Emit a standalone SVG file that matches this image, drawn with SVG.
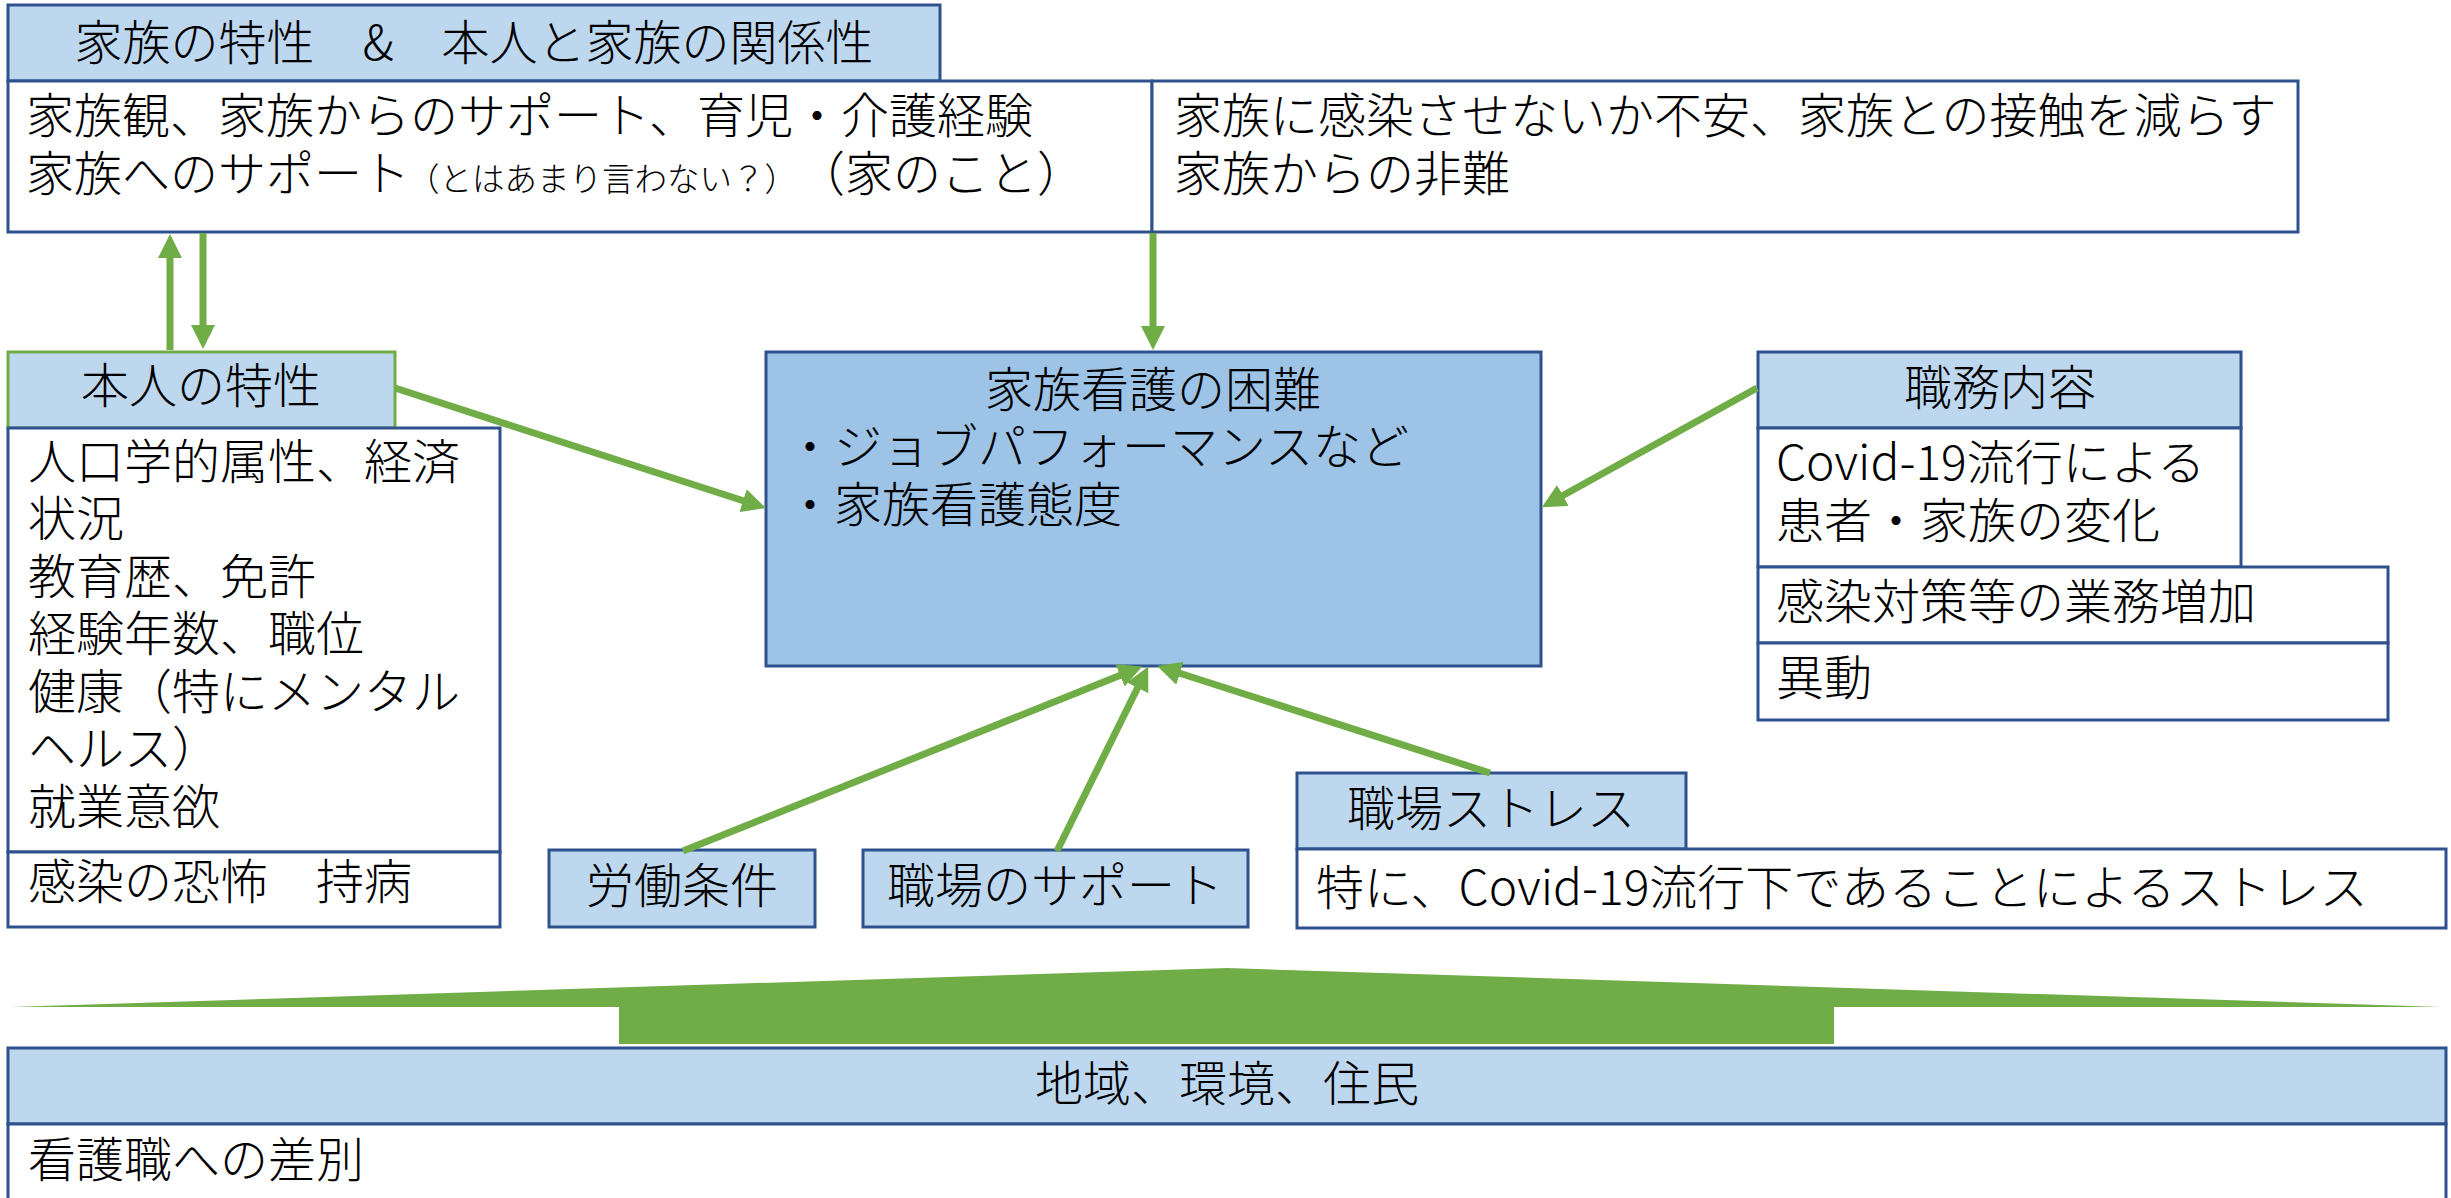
<svg xmlns="http://www.w3.org/2000/svg" width="2451" height="1198" viewBox="0 0 2451 1198">
<style>
text{font-family:"Noto Sans CJK JP","Noto Sans",sans-serif;font-size:48px;font-weight:300;fill:#000}
.hd{fill:#BDD7EE;stroke:#2F528F;stroke-width:3}
.hdg{fill:#BDD7EE;stroke:#70AD47;stroke-width:3}
.bd{fill:#FFFFFF;stroke:#2F528F;stroke-width:3}
.ctr{fill:#9DC3E6;stroke:#2F528F;stroke-width:3}
.mid{text-anchor:middle}
.sm{font-size:32.5px}
.cn line{stroke:#70AD47;stroke-width:7;fill:none;marker-end:url(#ah)}
</style>
<defs>
<marker id="ah" markerUnits="userSpaceOnUse" markerWidth="24" markerHeight="24" refX="1" refY="12" orient="auto" viewBox="0 0 24 24">
<path d="M0,0 L24,12 L0,24 Z" fill="#70AD47"/>
</marker>
</defs>
<rect width="2451" height="1198" fill="#FFFFFF"/>

<g id="family-header">
<rect class="hd" x="8" y="5" width="932" height="76"/>
<text class="mid" x="474" y="60">家族の特性　&amp;　本人と家族の関係性</text>
</g>
<g id="family-left">
<rect class="bd" x="8" y="81" width="1144" height="151"/>
<text x="26" y="133">家族観、家族からのサポート、育児・介護経験</text>
<text x="26" y="191">家族へのサポート<tspan class="sm" x="407">（とはあまり言わない？）</tspan><tspan x="797">（家のこと）</tspan></text>
</g>
<g id="family-right">
<rect class="bd" x="1152" y="81" width="1146" height="151"/>
<text x="1174" y="133">家族に感染させないか不安、家族との接触を減らす</text>
<text x="1174" y="191">家族からの非難</text>
</g>

<g id="self-header">
<rect class="hdg" x="8" y="352" width="387" height="76"/>
<text class="mid" x="201" y="403">本人の特性</text>
</g>
<g id="self-body">
<rect class="bd" x="8" y="428" width="492" height="424"/>
<text x="28" y="479">人口学的属性、経済</text>
<text x="28" y="536">状況</text>
<text x="28" y="594">教育歴、免許</text>
<text x="28" y="651">経験年数、職位</text>
<text x="28" y="709">健康（特にメンタル</text>
<text x="28" y="766">ヘルス）</text>
<text x="28" y="824">就業意欲</text>
</g>
<g id="self-fear">
<rect class="bd" x="8" y="852" width="492" height="75"/>
<text x="28" y="899">感染の恐怖　持病</text>
</g>

<g id="central">
<rect class="ctr" x="766" y="352" width="775" height="314"/>
<text class="mid" x="1153" y="407">家族看護の困難</text>
<text x="786" y="464">・ジョブパフォーマンスなど</text>
<text x="786" y="522">・家族看護態度</text>
</g>

<g id="job-header">
<rect class="hd" x="1758" y="352" width="483" height="76"/>
<text class="mid" x="2000" y="405">職務内容</text>
</g>
<g id="job-covid">
<rect class="bd" x="1758" y="428" width="483" height="139"/>
<text x="1776" y="480">Covid-19流行による</text>
<text x="1776" y="538">患者・家族の変化</text>
</g>
<g id="job-infection">
<rect class="bd" x="1758" y="567" width="630" height="76"/>
<text x="1776" y="619">感染対策等の業務増加</text>
</g>
<g id="job-transfer">
<rect class="bd" x="1758" y="643" width="630" height="77"/>
<text x="1776" y="695">異動</text>
</g>

<g id="work-conditions">
<rect class="hd" x="549" y="850" width="266" height="77"/>
<text class="mid" x="682" y="903">労働条件</text>
</g>
<g id="work-support">
<rect class="hd" x="863" y="850" width="385" height="77"/>
<text class="mid" x="1055" y="903">職場のサポート</text>
</g>
<g id="work-stress-header">
<rect class="hd" x="1297" y="773" width="389" height="76"/>
<text class="mid" x="1491" y="826">職場ストレス</text>
</g>
<g id="work-stress-body">
<rect class="bd" x="1297" y="849" width="1149" height="79"/>
<text x="1316" y="905">特に、Covid-19流行下であることによるストレス</text>
</g>

<g id="community-header">
<rect class="hd" x="8" y="1048" width="2438" height="76"/>
<text class="mid" x="1227" y="1101">地域、環境、住民</text>
</g>
<g id="community-body">
<rect class="bd" x="8" y="1124" width="2438" height="80"/>
<text x="28" y="1177">看護職への差別</text>
</g>

<g id="connectors" class="cn">
<line x1="170" y1="350" x2="170" y2="257"/>
<line x1="203" y1="233" x2="203" y2="326"/>
<line x1="1153" y1="233" x2="1153" y2="327"/>
<line x1="395" y1="388" x2="744" y2="501"/>
<line x1="1757" y1="388" x2="1562" y2="496"/>
<line x1="683" y1="851" x2="1121" y2="675"/>
<line x1="1057" y1="851" x2="1138" y2="687"/>
<line x1="1490" y1="773" x2="1179" y2="673"/>
<polygon points="11,1007 1227,968 2441,1007 1834,1007 1834,1044 619,1044 619,1007" fill="#70AD47" stroke="none"/>
</g>
</svg>
